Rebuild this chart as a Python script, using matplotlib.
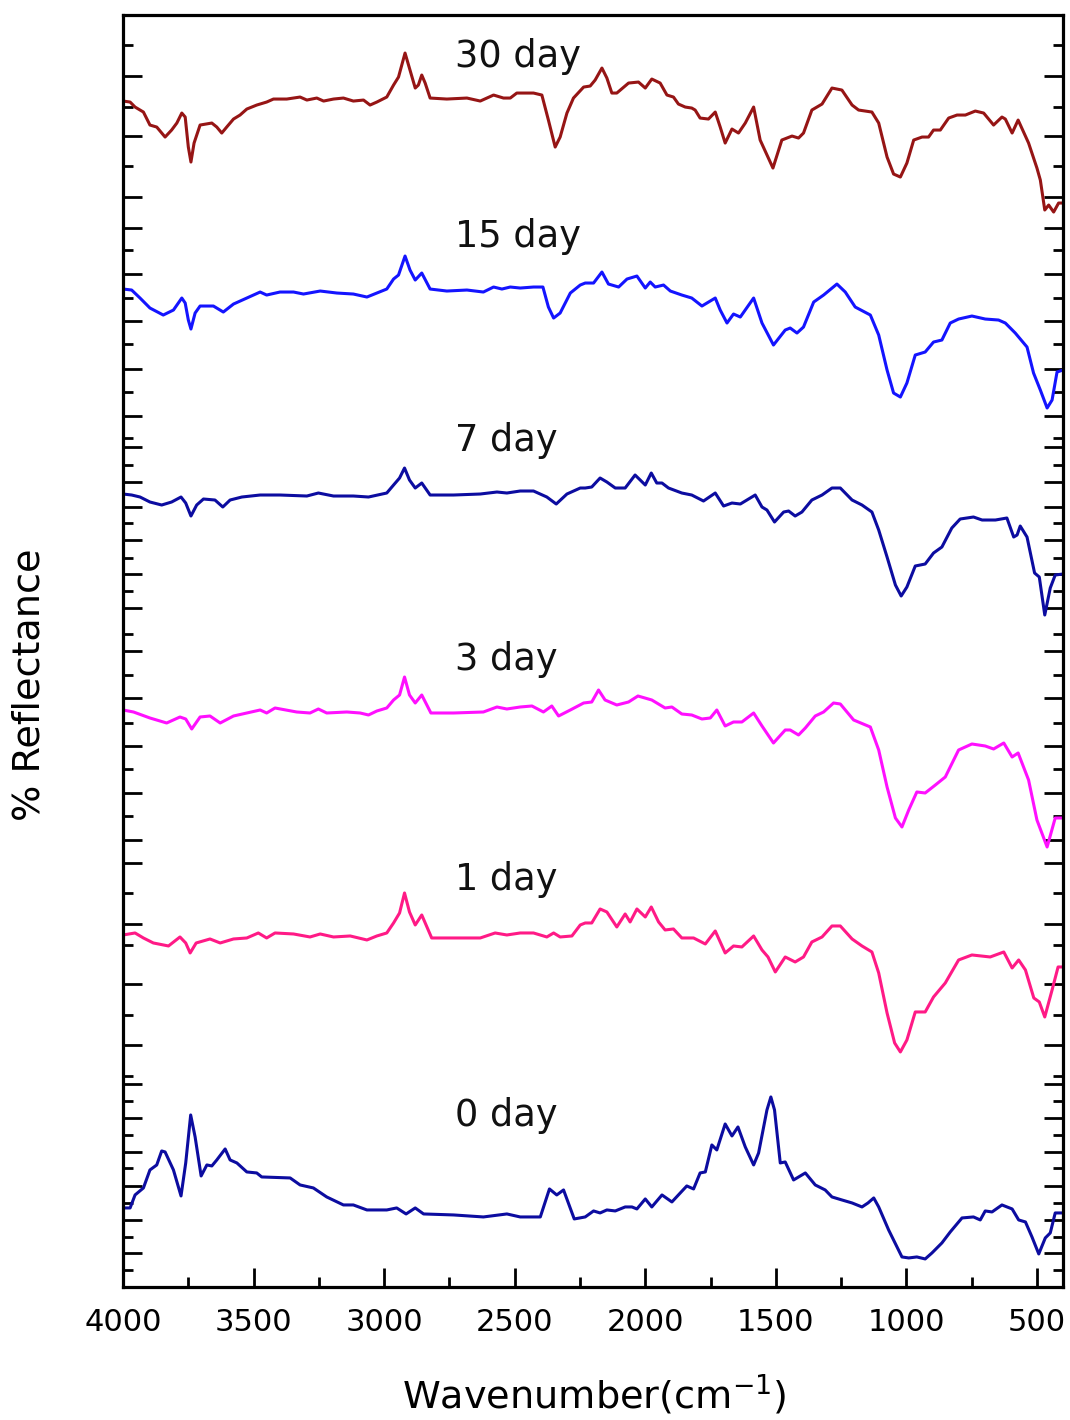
import numpy as np, matplotlib; matplotlib.use("Agg")
import matplotlib.pyplot as plt
from matplotlib.ticker import MultipleLocator

plt.rcParams['font.family'] = ['DejaVu Sans']
plt.rcParams['mathtext.default'] = 'regular'

# ---- spectra (wavenumber cm-1, stacked reflectance, arb. units) ----
d30 = [(4000,118.6),(3973,118.5),(3954,118.0),(3922,117.5),(3897,116.2),(3871,116.0),(3839,115.0),(3814,115.7),
       (3794,116.4),(3775,117.4),(3762,117.0),(3750,114.0),(3740,112.5),(3728,114.4),(3705,116.2),(3660,116.4),
       (3641,116.0),(3622,115.4),(3603,116.0),(3577,116.8),(3552,117.2),(3526,117.8),(3488,118.2),(3450,118.5),
       (3424,118.8),(3373,118.8),(3322,119.0),(3296,118.7),(3258,118.9),(3232,118.6),(3194,118.8),(3156,118.9),
       (3118,118.6),(3079,118.7),(3054,118.2),(3028,118.5),(2990,119.0),(2964,120.2),(2945,121.0),(2920,123.4),
       (2901,121.7),(2881,119.9),(2869,120.2),(2856,121.2),(2843,120.4),(2824,118.9),(2760,118.8),(2683,118.9),
       (2632,118.6),(2581,119.2),(2543,118.9),(2517,118.9),(2492,119.4),(2428,119.4),(2396,119.2),(2371,116.7),
       (2345,114.0),(2326,115.0),(2300,117.4),(2275,118.9),(2236,120.0),(2211,120.1),(2192,120.7),(2166,121.9),
       (2147,120.9),(2128,119.4),(2109,119.4),(2064,120.4),(2026,120.5),(2000,119.9),(1975,120.8),(1943,120.4),
       (1917,119.2),(1892,119.0),(1873,118.3),(1847,118.0),(1822,117.9),(1809,117.7),(1790,116.9),(1758,116.8),
       (1732,117.5),(1713,116.0),(1694,114.4),(1668,115.8),(1643,115.4),(1617,116.4),(1585,118.0),(1560,114.7),
       (1534,113.2),(1511,111.9),(1477,114.7),(1438,115.1),(1413,114.9),(1394,115.4),(1362,117.7),(1323,118.3),
       (1285,119.9),(1247,119.7),(1208,118.2),(1183,117.7),(1132,117.5),(1106,116.4),(1074,113.0),(1049,111.3),
       (1023,111.0),(998,112.4),(972,114.7),(940,115.0),(915,115.0),(896,115.7),(870,115.7),(838,116.9),
       (806,117.2),(774,117.2),(736,117.6),(704,117.4),(666,116.2),(634,117.0),(621,116.8),(595,115.4),
       (572,116.7),(532,114.4),(500,111.9),(487,110.7),(470,107.7),(455,108.2),(436,107.5),(417,108.4),(400,108.4)]

d15 = [(4000,99.8),(3967,99.7),(3935,98.9),(3897,97.9),(3846,97.2),(3807,97.7),(3775,98.9),(3762,98.4),
       (3750,96.7),(3740,95.8),(3724,97.4),(3705,98.1),(3654,98.1),(3616,97.5),(3577,98.3),(3526,98.9),
       (3475,99.5),(3450,99.2),(3399,99.5),(3347,99.5),(3309,99.3),(3245,99.6),(3181,99.4),(3118,99.3),
       (3066,99.0),(3028,99.4),(2990,99.8),(2964,100.8),(2945,101.2),(2920,103.1),(2901,101.7),(2881,100.7),
       (2856,101.4),(2824,99.8),(2760,99.6),(2683,99.7),(2620,99.5),(2581,100.0),(2549,99.8),(2517,100.0),
       (2479,99.9),(2428,100.0),(2392,100.0),(2371,98.0),(2351,96.9),(2326,97.4),(2287,99.4),(2249,100.2),
       (2230,100.4),(2198,100.4),(2166,101.5),(2141,100.3),(2102,100.0),(2070,100.8),(2032,101.1),(2000,99.9),
       (1981,100.5),(1962,100.0),(1930,100.2),(1904,99.6),(1860,99.2),(1822,98.9),(1783,98.1),(1732,98.9),
       (1713,97.7),(1687,96.4),(1662,97.3),(1636,97.0),(1585,98.9),(1553,96.4),(1509,94.2),(1464,95.7),
       (1445,95.9),(1419,95.4),(1394,96.0),(1355,98.5),(1317,99.2),(1266,100.3),(1234,99.5),(1196,98.0),
       (1138,97.2),(1106,95.2),(1074,91.7),(1049,89.4),(1023,89.0),(998,90.4),(966,93.2),(928,93.5),
       (896,94.5),(864,94.7),(832,96.4),(800,96.8),(749,97.1),(698,96.8),(647,96.7),(621,96.4),
       (583,95.4),(538,94.0),(513,91.4),(487,89.7),(461,87.9),(442,88.7),(423,91.5),(400,91.7)]

d7 = [(4000,79.3),(3967,79.2),(3935,79.0),(3897,78.5),(3852,78.2),(3814,78.5),(3778,79.0),(3760,78.4),
      (3740,77.1),(3718,78.2),(3692,78.8),(3648,78.7),(3618,78.0),(3590,78.7),(3545,79.0),(3475,79.2),
      (3399,79.2),(3296,79.1),(3252,79.4),(3194,79.1),(3118,79.1),(3060,79.0),(2990,79.4),(2964,80.2),
      (2941,80.9),(2922,81.9),(2903,80.7),(2881,79.9),(2856,80.4),(2824,79.2),(2734,79.2),(2632,79.3),
      (2568,79.5),(2530,79.4),(2479,79.6),(2428,79.6),(2377,79.0),(2341,78.3),(2300,79.3),(2249,79.9),
      (2230,79.9),(2205,80.0),(2173,80.9),(2147,80.5),(2115,79.9),(2077,79.9),(2039,81.2),(2000,80.2),
      (1977,81.4),(1956,80.4),(1936,80.4),(1911,79.9),(1860,79.4),(1822,79.2),(1777,78.6),(1732,79.4),
      (1700,78.1),(1668,78.4),(1636,78.3),(1579,79.2),(1553,78.0),(1534,77.7),(1505,76.5),(1470,77.5),
      (1451,77.6),(1426,77.1),(1400,77.5),(1362,78.7),(1323,79.2),(1285,79.9),(1253,79.9),(1208,78.7),
      (1170,78.2),(1132,77.5),(1106,75.7),(1074,73.0),(1042,70.2),(1020,69.1),(998,70.0),(966,72.1),
      (928,72.3),(896,73.4),(864,74.0),(826,75.9),(794,76.8),(743,77.0),(710,76.7),(659,76.7),
      (615,76.9),(589,75.0),(576,75.2),(564,76.1),(538,75.0),(509,71.4),(491,71.0),(470,67.2),
      (449,69.9),(430,71.2),(400,71.3)]

d3 = [(4000,57.7),(3960,57.5),(3897,56.9),(3833,56.4),(3782,57.0),(3760,56.8),(3737,55.8),(3705,57.0),
      (3667,57.1),(3628,56.4),(3577,57.1),(3526,57.4),(3475,57.7),(3450,57.4),(3418,57.9),(3335,57.5),
      (3284,57.4),(3252,57.8),(3220,57.4),(3143,57.5),(3092,57.4),(3060,57.2),(3028,57.6),(2990,57.9),
      (2964,58.7),(2941,59.2),(2922,61.0),(2903,59.2),(2881,58.4),(2856,59.2),(2821,57.4),(2734,57.4),
      (2620,57.5),(2568,58.0),(2530,57.8),(2479,58.0),(2434,58.1),(2390,57.5),(2358,58.1),(2332,57.1),
      (2287,57.7),(2236,58.4),(2205,58.5),(2179,59.7),(2154,58.7),(2109,58.2),(2064,58.5),(2028,59.1),
      (1975,58.7),(1924,57.9),(1898,58.0),(1860,57.3),(1822,57.2),(1783,56.8),(1751,56.9),(1726,57.7),
      (1694,56.1),(1662,56.5),(1630,56.5),(1585,57.4),(1553,56.1),(1509,54.4),(1464,55.7),(1445,55.7),
      (1413,55.2),(1387,55.9),(1349,57.1),(1317,57.5),(1279,58.4),(1253,58.3),(1202,56.7),(1138,56.0),
      (1106,53.7),(1074,50.0),(1042,46.9),(1017,46.0),(991,47.7),(960,49.5),(928,49.4),(889,50.2),
      (851,51.0),(800,53.7),(749,54.3),(698,54.1),(666,53.8),(627,54.4),(595,53.0),(572,53.4),
      (532,50.7),(500,46.7),(461,44.0),(430,46.9),(400,46.9)]

d1 = [(4000,35.2),(3954,35.4),(3922,34.9),(3884,34.4),(3826,34.1),(3782,35.0),(3760,34.4),(3743,33.4),
      (3720,34.4),(3667,34.8),(3628,34.4),(3577,34.8),(3526,34.9),(3482,35.4),(3450,34.9),(3418,35.4),
      (3347,35.3),(3284,35.0),(3245,35.3),(3194,35.0),(3130,35.1),(3066,34.7),(3028,35.1),(2990,35.4),
      (2964,36.4),(2941,37.4),(2922,39.4),(2903,37.5),(2881,36.2),(2856,37.2),(2818,34.9),(2734,34.9),
      (2632,34.9),(2575,35.4),(2530,35.2),(2479,35.4),(2428,35.4),(2377,35.0),(2351,35.4),(2326,35.0),
      (2281,35.1),(2249,36.2),(2230,36.4),(2205,36.4),(2173,37.8),(2147,37.5),(2109,36.0),(2077,37.3),
      (2058,36.5),(2032,37.8),(2000,37.0),(1977,38.0),(1949,36.5),(1924,35.7),(1892,35.8),(1860,34.9),
      (1815,34.9),(1770,34.3),(1732,35.6),(1694,33.4),(1662,34.1),(1630,34.0),(1585,35.1),(1553,33.7),
      (1530,33.0),(1502,31.5),(1464,33.0),(1426,32.5),(1394,33.0),(1362,34.5),(1323,35.0),(1285,36.1),
      (1253,36.1),(1208,34.8),(1170,34.1),(1132,33.5),(1106,31.4),(1074,27.4),(1045,24.4),(1023,23.5),
      (998,24.7),(966,27.5),(928,27.5),(896,29.0),(851,30.4),(800,32.7),(749,33.2),(679,33.0),
      (627,33.5),(595,31.9),(570,32.7),(544,31.7),(512,28.9),(491,28.5),(470,27.0),(442,29.7),
      (419,32.0),(400,32.0)]

d0 = [(4000,7.9),(3973,7.9),(3954,9.2),(3922,9.9),(3897,11.7),(3871,12.2),(3852,13.6),(3839,13.5),
      (3807,11.7),(3778,9.1),(3760,12.4),(3741,17.2),(3724,15.0),(3701,11.1),(3679,12.2),(3660,12.1),
      (3641,12.7),(3609,13.8),(3590,12.7),(3564,12.4),(3526,11.5),(3488,11.4),(3469,11.0),(3360,10.9),
      (3322,10.2),(3271,9.9),(3220,9.0),(3156,8.2),(3118,8.2),(3066,7.7),(2990,7.7),(2952,7.9),
      (2916,7.3),(2881,7.9),(2849,7.3),(2734,7.2),(2620,7.0),(2530,7.3),(2479,7.0),(2402,7.0),
      (2367,9.8),(2339,9.2),(2313,9.7),(2272,6.8),(2230,7.0),(2198,7.6),(2173,7.4),(2147,7.7),
      (2115,7.6),(2077,8.0),(2051,8.0),(2032,7.8),(2000,8.8),(1975,8.0),(1936,9.2),(1898,8.5),
      (1866,9.4),(1841,10.1),(1815,9.8),(1790,11.4),(1770,11.5),(1745,14.2),(1726,13.7),(1694,16.3),
      (1668,15.1),(1645,16.0),(1617,14.0),(1585,12.2),(1566,13.4),(1534,17.7),(1519,19.0),(1505,17.7),
      (1483,12.4),(1464,12.5),(1432,10.7),(1387,11.4),(1349,10.2),(1311,9.7),(1285,9.0),(1247,8.7),
      (1208,8.4),(1170,8.0),(1147,8.4),(1125,8.9),(1106,8.0),(1068,5.7),(1017,3.0),(991,2.9),
      (960,3.0),(928,2.8),(902,3.4),(864,4.4),(832,5.5),(787,6.9),(743,7.0),(717,6.7),
      (698,7.6),(672,7.5),(634,8.2),(595,7.8),(570,6.7),(544,6.5),(519,5.0),(493,3.3),
      (468,4.9),(449,5.4),(430,7.4),(400,7.4)]

labels = ["30 day", "15 day", "7 day", "3 day", "1 day", "0 day"]
label_y = [123.5, 105.5, 85.1, 63.1, 41.1, 17.5]
colors = ["#961515", "#1414FF", "#0C0CA0", "#FF10FF", "#FF1A86", "#0C0CA0"]
spectra = [d30, d15, d7, d3, d1, d0]

# irregular y ticks of the stacked panels (no labels)
ymajor = [121.1,115.1,109.0,105.9,101.3,96.6,91.8,87.1,84.0,80.5,78.0,74.7,71.3,67.9,63.6,58.9,54.1,
          49.4,44.7,42.4,36.3,30.3,24.2,20.3,16.9,13.5,10.1,6.7,3.4]
yminor = [124.2,118.0,112.1,103.7,98.9,94.3,89.5,84.9,82.2,76.4,72.9,69.6,65.3,61.2,56.4,51.8,47.1,
          39.4,34.2,27.2,21.1,18.6,15.2,11.9,8.4,5.0,1.7]

fig = plt.figure(figsize=(10.7, 14.2), dpi=100)
ax = fig.add_axes([0.115, 0.0937, 0.8785, 0.8957])

for d, c in zip(spectra, colors):
    xy = np.array(d).T
    ax.plot(xy[0], xy[1], color=c, lw=2.2, solid_joinstyle="round", solid_capstyle="round")

for t, y in zip(labels, label_y):
    ax.text(2728, y, t, fontsize=26.5, ha="left", va="center_baseline", color="#111111")

ax.set_xlim(4000, 400)
ax.set_ylim(0, 127.2)
ax.xaxis.set_major_locator(MultipleLocator(500))
ax.xaxis.set_minor_locator(MultipleLocator(250))
ax.set_yticks(ymajor)
ax.set_yticks(yminor, minor=True)
ax.set_yticklabels([])
for s in ax.spines.values():
    s.set_linewidth(2.3)
ax.tick_params(axis="both", which="both", direction="in", width=2.0, top=False, right=True)
ax.tick_params(axis="both", which="major", length=13.5)
ax.tick_params(axis="both", which="minor", length=7)
ax.tick_params(axis="x", labelsize=22, pad=15)

fig.text(0.555, 0.0176, "Wavenumber(cm$^{-1}$)", fontsize=27.5, ha="center", va="center")
fig.text(0.028, 0.518, "% Reflectance", fontsize=27.5, ha="center", va="center", rotation=90)

plt.savefig("out.png", dpi=100)
